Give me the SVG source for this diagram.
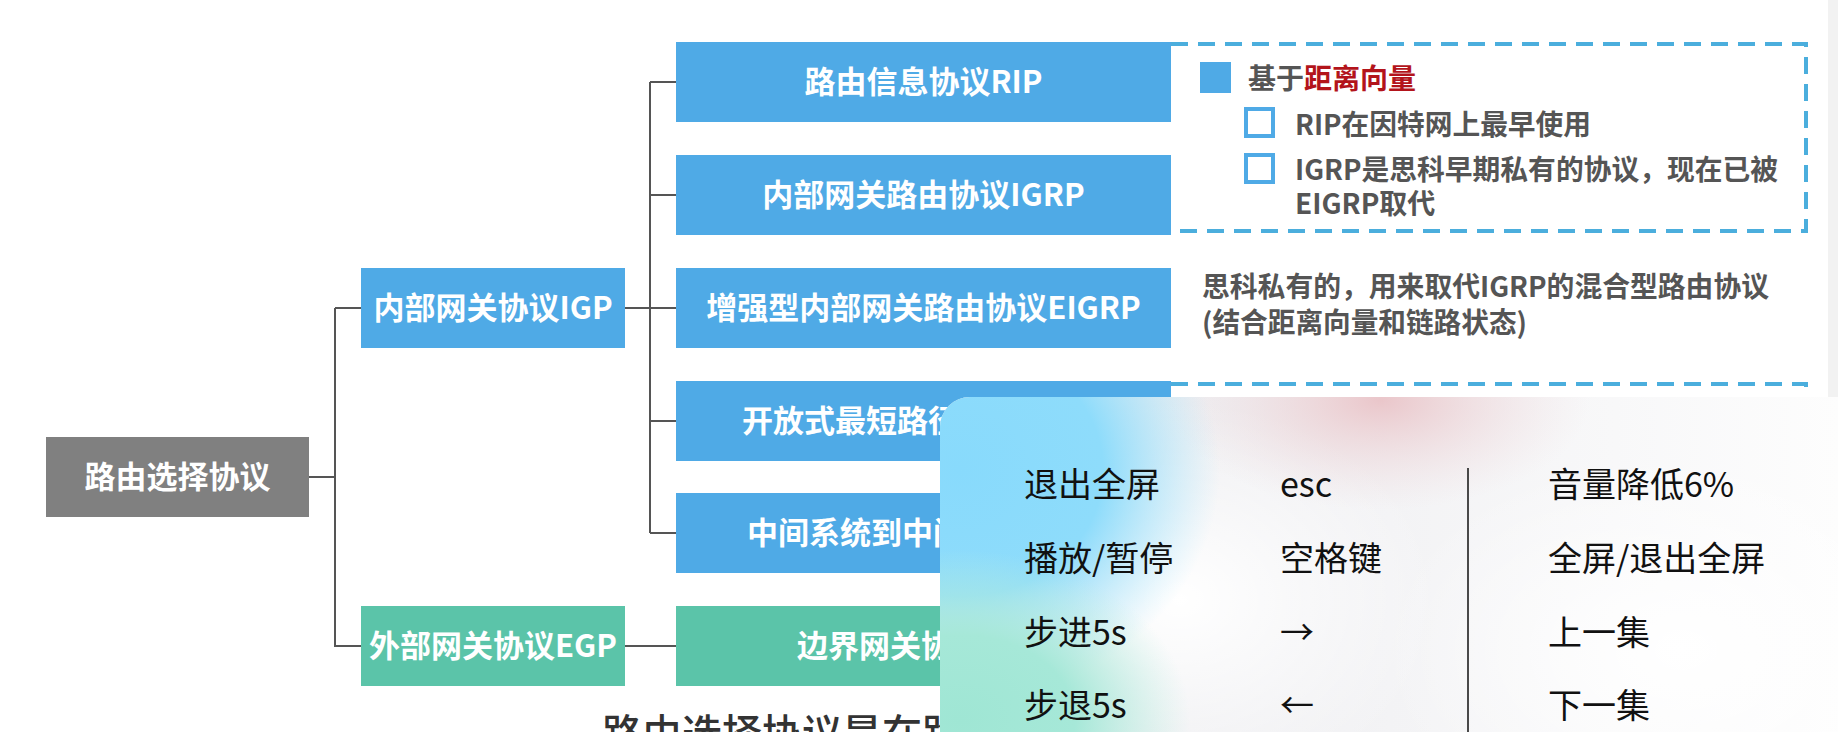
<svg xmlns="http://www.w3.org/2000/svg" width="1838" height="732" viewBox="0 0 1838 732">
<style>
.node-text{font-family:"Noto Sans CJK SC","Liberation Sans",sans-serif;font-weight:700;font-size:31px;fill:#ffffff;text-anchor:middle}
.node-text.start{text-anchor:start}
.note{font-family:"Noto Sans CJK SC","Liberation Sans",sans-serif;font-weight:700;font-size:28px;fill:#555555}
.menu{font-family:"Noto Sans CJK SC","Liberation Sans",sans-serif;font-weight:400;font-size:34px;fill:#111111}
.blue{fill:#4FAAE6}
.green{fill:#5BC4A9}
.conn{fill:none;stroke:#555555;stroke-width:2}
.dash{fill:none;stroke:#4BAEDD;stroke-width:4;stroke-dasharray:17 10}
</style>
<defs>
<clipPath id="panelClip"><rect x="940" y="397" width="960" height="400" rx="30"/></clipPath>
<linearGradient id="pBase" x1="0" y1="0" x2="1" y2="0">
<stop offset="0" stop-color="#E8E8EC"/><stop offset="0.5" stop-color="#F3F3F5"/><stop offset="1" stop-color="#FDFDFD"/>
</linearGradient>
<radialGradient id="gBlue"><stop offset="0" stop-color="#88DAFC"/><stop offset="0.55" stop-color="#8EDCFB"/><stop offset="1" stop-color="#A8E4FB" stop-opacity="0"/></radialGradient>
<radialGradient id="gMint"><stop offset="0" stop-color="#9FE6D4"/><stop offset="0.5" stop-color="#A6E8D8"/><stop offset="1" stop-color="#B8EDE0" stop-opacity="0"/></radialGradient>
<radialGradient id="gPink"><stop offset="0" stop-color="#EAC6CA"/><stop offset="1" stop-color="#EEDDE0" stop-opacity="0"/></radialGradient>
<radialGradient id="gWhite"><stop offset="0" stop-color="#FFFFFF"/><stop offset="1" stop-color="#FFFFFF" stop-opacity="0"/></radialGradient>
</defs>
<rect width="1838" height="732" fill="#FFFFFF"/>
<rect x="1828" y="0" width="10" height="397" fill="#F2F2F2"/>

<g id="connectors">
<path class="conn" d="M309 477 H335 M335 308 V647 M335 308 H361 M335 646 H361"/>
<path class="conn" d="M625 308 H650 M650 82 V533 M650 82 H676 M650 195 H676 M650 308 H676 M650 421 H676 M650 533 H676"/>
<path class="conn" d="M625 646 H676"/>
</g>

<g id="dashed-frames">
<path class="dash" d="M1171 44 H1806 V231 H1171"/>
<path class="dash" d="M1171 384 H1806 V420"/>
</g>

<g id="root"><rect x="46" y="437" width="263" height="80" fill="#808080"/><text class="node-text" x="177.5" y="488">路由选择协议</text></g>
<g id="igp"><rect class="blue" x="361" y="268" width="264" height="80"/><text class="node-text" x="493" y="319">内部网关协议IGP</text></g>
<g id="egp"><rect class="green" x="361" y="606" width="264" height="80"/><text class="node-text" x="493" y="657">外部网关协议EGP</text></g>
<g id="rip"><rect class="blue" x="676" y="42" width="495" height="80"/><text class="node-text" x="923.5" y="93">路由信息协议RIP</text></g>
<g id="igrp"><rect class="blue" x="676" y="155" width="495" height="80"/><text class="node-text" x="923.5" y="206">内部网关路由协议IGRP</text></g>
<g id="eigrp"><rect class="blue" x="676" y="268" width="495" height="80"/><text class="node-text" x="923.5" y="319">增强型内部网关路由协议EIGRP</text></g>
<g id="ospf"><rect class="blue" x="676" y="381" width="495" height="80"/><text class="node-text start" x="742" y="432">开放式最短路径</text></g>
<g id="isis"><rect class="blue" x="676" y="493" width="495" height="80"/><text class="node-text start" x="747" y="544">中间系统到中间</text></g>
<g id="bgp"><rect class="green" x="676" y="606" width="495" height="80"/><text class="node-text start" x="797" y="657">边界网关协议</text></g>

<g id="rip-igrp-notes">
<rect x="1200" y="62" width="31" height="31" fill="#4FAAE6"/>
<text class="note" x="1248" y="89">基于<tspan fill="#B3141B">距离向量</tspan></text>
<rect x="1246" y="109" width="27" height="27" fill="none" stroke="#4FAAE6" stroke-width="4"/>
<text class="note" x="1295" y="135" textLength="296" lengthAdjust="spacingAndGlyphs">RIP在因特网上最早使用</text>
<rect x="1246" y="155" width="27" height="27" fill="none" stroke="#4FAAE6" stroke-width="4"/>
<text class="note" x="1295" y="180" textLength="483" lengthAdjust="spacingAndGlyphs">IGRP是思科早期私有的协议，现在已被</text>
<text class="note" x="1295" y="214">EIGRP取代</text>
</g>
<g id="eigrp-note">
<text class="note" x="1202" y="297" textLength="567" lengthAdjust="spacingAndGlyphs">思科私有的，用来取代IGRP的混合型路由协议</text>
<text class="note" x="1202" y="333" textLength="325" lengthAdjust="spacingAndGlyphs">(结合距离向量和链路状态)</text>
</g>

<text x="602" y="748" font-family="Noto Sans CJK SC, sans-serif" font-size="40" font-weight="500" fill="#333333" stroke="#FFFFFF" stroke-width="3" paint-order="stroke">路由选择协议是在路</text>

<g id="shortcut-panel">
<g clip-path="url(#panelClip)">
<rect x="940" y="397" width="900" height="340" fill="url(#pBase)"/>
<ellipse cx="1180" cy="600" rx="260" ry="200" fill="url(#gWhite)"/>
<ellipse cx="1380" cy="400" rx="210" ry="110" fill="url(#gPink)"/>
<ellipse cx="960" cy="470" rx="260" ry="230" fill="url(#gBlue)"/>
<ellipse cx="960" cy="720" rx="230" ry="170" fill="url(#gMint)"/>
<ellipse cx="1680" cy="650" rx="300" ry="200" fill="url(#gWhite)"/>
</g>
<line x1="1468" y1="468" x2="1468" y2="732" stroke="#111111" stroke-width="1.5"/>
<text class="menu" x="1024" y="497">退出全屏</text>
<text class="menu" x="1280" y="497">esc</text>
<text class="menu" x="1548" y="497">音量降低6%</text>
<text class="menu" x="1024" y="571">播放/暂停</text>
<text class="menu" x="1280" y="571">空格键</text>
<text class="menu" x="1548" y="571">全屏/退出全屏</text>
<text class="menu" x="1024" y="645">步进5s</text>
<text class="menu" x="1280" y="645">→</text>
<text class="menu" x="1548" y="645">上一集</text>
<text class="menu" x="1024" y="718">步退5s</text>
<text class="menu" x="1280" y="718">←</text>
<text class="menu" x="1548" y="718">下一集</text>
</g>
</svg>
